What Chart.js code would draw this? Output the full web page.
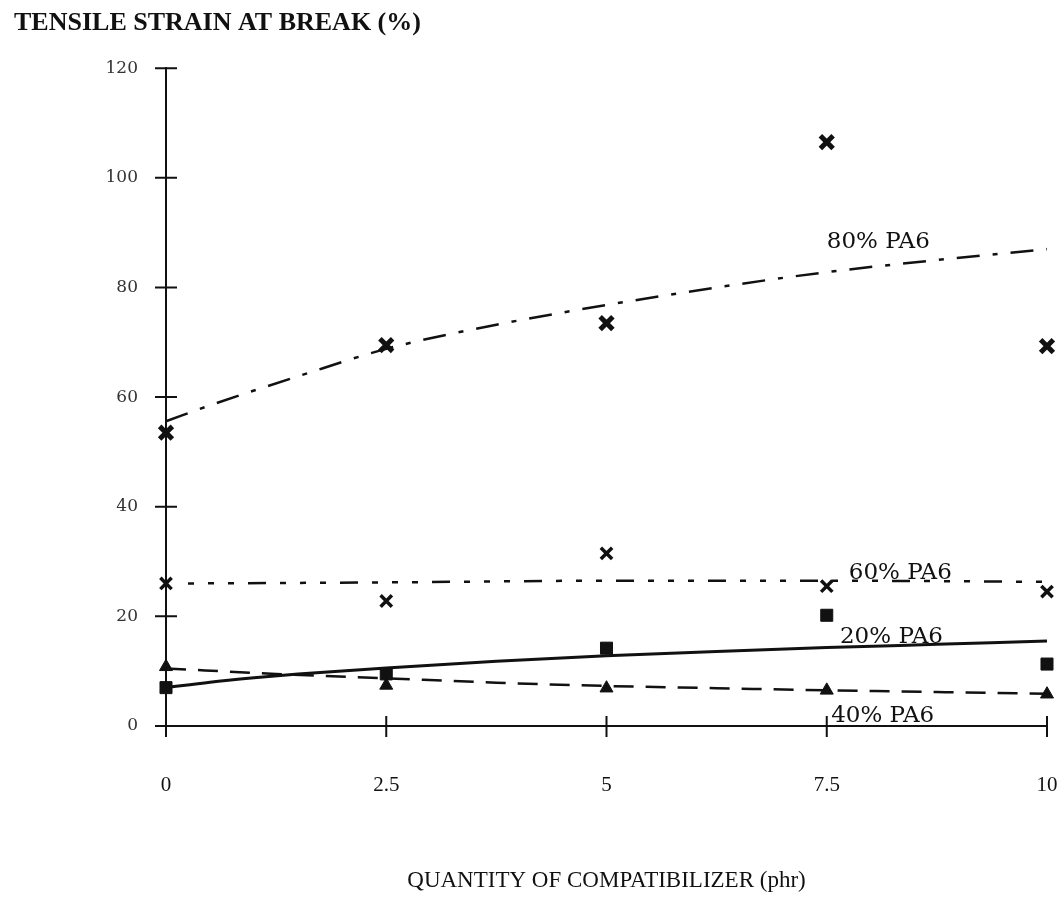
<!DOCTYPE html>
<html>
<head>
<meta charset="utf-8">
<script src="https://cdn.jsdelivr.net/npm/chart.js@4.4.1/dist/chart.umd.min.js"></script>
<style>
  html, body { margin: 0; padding: 0; background: #fff; }
  #wrap { width: 1061px; height: 898px; }
</style>
</head>
<body>
<div id="wrap"><canvas id="chart" width="1061" height="898"></canvas></div>
<script>
// measured points: compatibilizer (phr) vs tensile strain at break (%)
const phr = [0, 2.5, 5, 7.5, 10];
const pa80 = [53.5, 69.5, 73.5, 106.5, 69.3];
const pa60 = [26, 22.8, 31.5, 25.5, 24.5];
const pa20 = [7, 9.5, 14.2, 20.2, 11.3];
const pa40 = [10.8, 7.4, 6.9, 6.5, 5.8];

// trend curves
const fitX80 = [0, 0.5, 1, 1.5, 2.5, 3.75, 5, 6.25, 7.5, 8.75, 10];
const fit80 = [55.6, 58.5, 61.2, 63.8, 68.8, 73.2, 76.8, 80, 82.8, 85, 87];
const fitX60 = [0.25, 2.5, 5, 7.5, 10];
const fit60 = [26, 26.2, 26.5, 26.5, 26.3];
const fitX20 = [0, 0.5, 1, 1.5, 2.5, 3.75, 5, 6.25, 7.5, 8.75, 10];
const fit20 = [7, 8, 8.8, 9.5, 10.6, 11.8, 12.8, 13.6, 14.3, 14.9, 15.5];
const fitX40 = [0, 1.25, 2.5, 3.75, 5, 6.25, 7.5, 8.75, 10];
const fit40 = [10.5, 9.5, 8.7, 7.9, 7.3, 6.9, 6.5, 6.2, 5.9];

const xTicks = [0, 2.5, 5, 7.5, 10];
const yTicks = [0, 20, 40, 60, 80, 100, 120];

const curveLabels = ['80% PA6', '60% PA6', '20% PA6', '40% PA6'];
const labelAt = [[7.5, 88.2], [7.75, 27.9], [7.65, 16.2], [7.55, 1.8]];

const ink = '#111';

function pts(xs, ys) {
    return xs.map((x, i) => ({ x: x, y: ys[i] }));
}

function markers(ys, style, radius, width) {
    return {
        data: pts(phr, ys),
        showLine: false,
        pointStyle: style,
        pointRadius: radius,
        pointBorderWidth: width,
        pointBackgroundColor: ink,
        pointBorderColor: ink,
        clip: false
    };
}

function fitLine(xs, ys, dash, width) {
    return {
        data: pts(xs, ys),
        showLine: true,
        pointRadius: 0,
        borderColor: ink,
        borderWidth: width,
        borderDash: dash,
        cubicInterpolationMode: 'monotone',
        clip: false
    };
}

// ticks that cross the axis lines, like the original plot
const axisTicks = {
    id: 'axisTicks',
    afterDraw(chart) {
        const { ctx, chartArea: a, scales: { x, y } } = chart;
        ctx.save();
        ctx.strokeStyle = ink;
        ctx.lineWidth = 2;
        ctx.beginPath();
        y.ticks.forEach(t => {
            const py = y.getPixelForValue(t.value);
            ctx.moveTo(a.left - 11, py);
            ctx.lineTo(a.left + (t.value === 0 ? 0 : 11), py);
        });
        x.ticks.forEach(t => {
            const px = x.getPixelForValue(t.value);
            ctx.moveTo(px, a.bottom - (t.value === 0 ? 0 : 10));
            ctx.lineTo(px, a.bottom + 11);
        });
        ctx.stroke();
        ctx.restore();
    }
};

// curve names written next to each trend line
const curveText = {
    id: 'curveText',
    afterDatasetsDraw(chart) {
        const { ctx, scales: { x, y } } = chart;
        ctx.save();
        ctx.fillStyle = ink;
        ctx.font = '23px "DejaVu Serif"';
        ctx.textBaseline = 'middle';
        curveLabels.forEach((txt, i) => {
            ctx.fillText(txt, x.getPixelForValue(labelAt[i][0]), y.getPixelForValue(labelAt[i][1]));
        });
        ctx.restore();
    }
};

const ctx = document.getElementById('chart').getContext('2d');
new Chart(ctx, {
    type: 'scatter',
    data: {
        datasets: [
            markers(pa80, 'crossRot', 9, 5),
            markers(pa60, 'crossRot', 8, 3.5),
            markers(pa20, 'rect', 8.5, 1),
            markers(pa40, 'triangle', 7.5, 1),
            fitLine(fitX80, fit80, [23, 13, 5, 13], 2.5),
            fitLine(fitX60, fit60, [6, 14, 6, 14, 6, 14, 18, 14], 2.5),
            fitLine(fitX20, fit20, [], 3),
            fitLine(fitX40, fit40, [20, 12], 2.5)
        ]
    },
    options: {
        responsive: false,
        animation: false,
        layout: { padding: { left: 14, right: 13, top: 0, bottom: 0 } },
        plugins: {
            legend: { display: false },
            tooltip: { enabled: false },
            title: {
                display: true,
                text: 'TENSILE STRAIN AT BREAK (%)',
                align: 'start',
                color: ink,
                font: { family: 'Liberation Serif', size: 26, weight: 'bold' },
                padding: { top: 8, bottom: 29 }
            }
        },
        scales: {
            x: {
                type: 'linear',
                min: 0,
                max: 10,
                afterBuildTicks: s => { s.ticks = xTicks.map(v => ({ value: v })); },
                afterFit: s => { s.height = 172; },
                // invisible tick marks only push the labels down
                grid: { display: true, drawOnChartArea: false, drawTicks: true, tickLength: 47, tickColor: 'rgba(0,0,0,0)' },
                border: { display: true, color: ink, width: 2 },
                ticks: {
                    padding: 0,
                    color: ink,
                    font: { family: 'Liberation Serif', size: 21 },
                    callback: v => String(v)
                },
                title: {
                    display: true,
                    text: 'QUANTITY OF COMPATIBILIZER (phr)',
                    color: ink,
                    font: { family: 'Liberation Serif', size: 23 },
                    padding: { top: 0, bottom: 3 }
                }
            },
            y: {
                type: 'linear',
                min: 0,
                max: 120,
                afterBuildTicks: s => { s.ticks = yTicks.map(v => ({ value: v })); },
                afterFit: s => { s.width = 152; },
                grid: { display: true, drawOnChartArea: false, drawTicks: true, tickLength: 28, tickColor: 'rgba(0,0,0,0)' },
                border: { display: true, color: ink, width: 2 },
                ticks: {
                    padding: 0,
                    color: '#333',
                    font: { family: 'DejaVu Serif', size: 17 },
                    callback: v => String(v)
                }
            }
        }
    },
    plugins: [axisTicks, curveText]
});
</script>
</body>
</html>
